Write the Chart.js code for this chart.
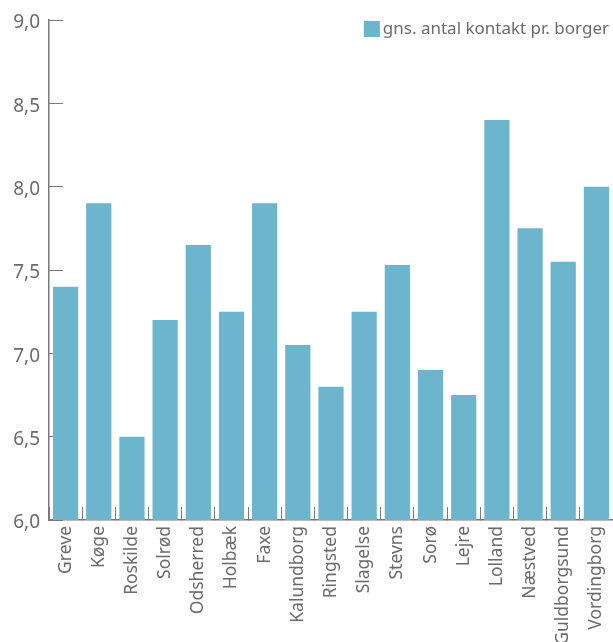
<!DOCTYPE html>
<html>
<head>
<meta charset="utf-8">
<script src="https://cdn.jsdelivr.net/npm/chart.js@4/dist/chart.umd.min.js"></script>
<style>
  html, body { margin: 0; padding: 0; background: #fff; }
  #wrap { width: 613px; height: 642px; }
</style>
</head>
<body>
<div id="wrap"><canvas id="graf"></canvas></div>
<script>
// kommuner og værdier
const kommuner = ["Greve", "Køge", "Roskilde", "Solrød", "Odsherred", "Holbæk", "Faxe", "Kalundborg",
  "Ringsted", "Slagelse", "Stevns", "Sorø", "Lejre", "Lolland", "Næstved", "Guldborgsund", "Vordingborg"];
const kontakter = [7.40, 7.90, 6.50, 7.20, 7.65, 7.25, 7.90, 7.05, 6.80, 7.25, 7.53, 6.90, 6.75, 8.40, 7.75, 7.55, 8.00];
const serieNavn = "gns. antal kontakt pr. borger";
const yMin = 6.0;
const yMax = 9.0;
const yStep = 0.5;

const tekstFarve = "#6b6b6b";
const linjeFarve = "#7a7a7a";
const barFarve = "#6cb5cc";
const skrift = "'Noto Sans', sans-serif";

Chart.defaults.font.family = skrift;
Chart.defaults.color = tekstFarve;

// legende tegnes oppe i højre hjørne, inde i plotområdet
const legendePlugin = {
  id: "legendeHjorne",
  afterDraw: function (chart) {
    const ctx = chart.ctx;
    const ds = chart.data.datasets[0];
    const højre = chart.chartArea.right - 4;
    const midt = 29;
    ctx.save();
    ctx.font = "17px " + skrift;
    ctx.fillStyle = tekstFarve;
    ctx.textAlign = "right";
    ctx.textBaseline = "middle";
    ctx.fillText(ds.label, højre, midt);
    const bredde = ctx.measureText(ds.label).width;
    ctx.fillStyle = ds.backgroundColor;
    ctx.fillRect(højre - bredde - 19, midt - 8, 16, 16);
    ctx.restore();
  },
};

new Chart(document.getElementById("graf"), {
  type: "bar",
  data: {
    labels: kommuner,
    datasets: [
      {
        label: serieNavn,
        data: kontakter,
        backgroundColor: barFarve,
        categoryPercentage: 1,
        barPercentage: 0.76,
      },
    ],
  },
  options: {
    responsive: true,
    maintainAspectRatio: false,
    animation: false,
    layout: { padding: { top: 20, right: 0, left: 0, bottom: 0 } },
    plugins: {
      tooltip: { enabled: false },
      legend: { display: false },
    },
    scales: {
      x: {
        grid: {
          offset: true,
          drawOnChartArea: false,
          tickLength: -13,
          color: linjeFarve,
        },
        border: { color: linjeFarve, width: 1.5 },
        ticks: {
          minRotation: 90,
          maxRotation: 90,
          autoSkip: false,
          padding: 19,
          font: { size: 17.5 },
          color: tekstFarve,
        },
        afterFit: function (scale) {
          scale.height = 122;
          scale.paddingLeft = 0;
          scale.paddingRight = 0;
        },
      },
      y: {
        min: yMin,
        max: yMax,
        grid: {
          drawOnChartArea: false,
          tickLength: -14,
          color: linjeFarve,
        },
        border: { color: linjeFarve, width: 1.5 },
        ticks: {
          stepSize: yStep,
          padding: 23,
          labelOffset: 3,
          font: { size: 19 },
          color: tekstFarve,
          callback: function (v) {
            return v.toFixed(1).replace(".", ",");
          },
        },
        afterFit: function (scale) {
          scale.width = 49;
          scale.paddingTop = 0;
          scale.paddingBottom = 0;
        },
      },
    },
  },
  plugins: [legendePlugin],
});
</script>
</body>
</html>
